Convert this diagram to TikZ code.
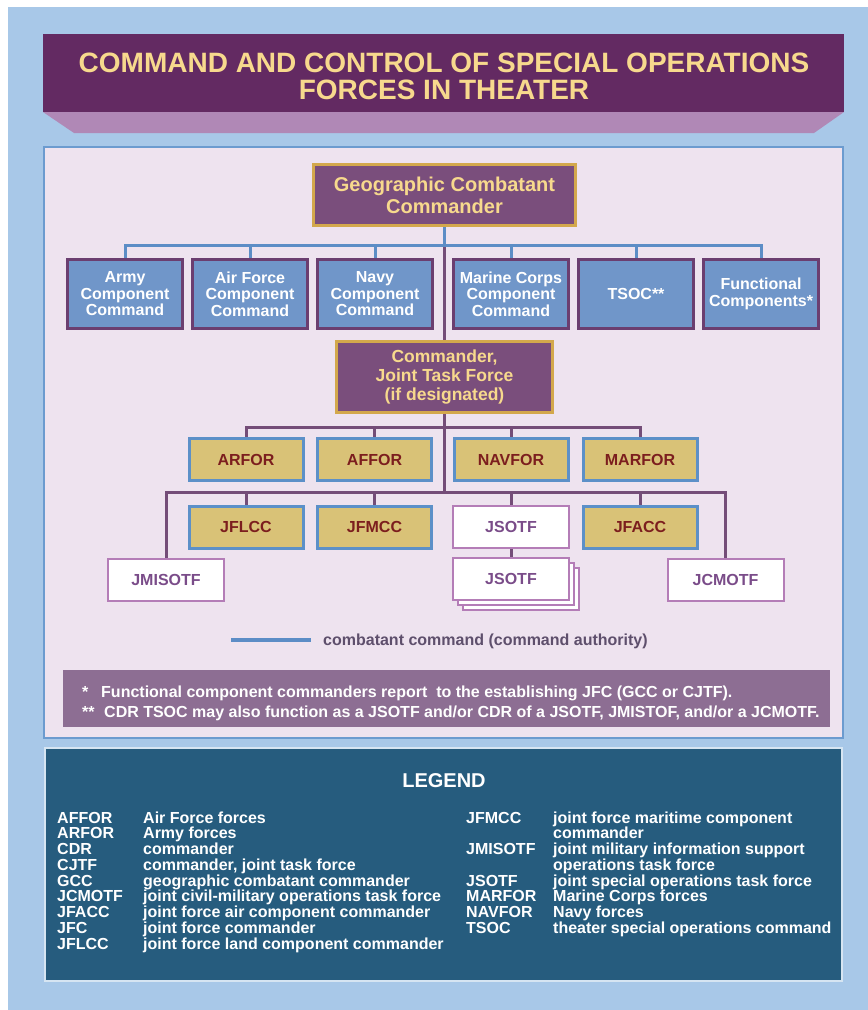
\documentclass[tikz,border=0pt]{standalone}
\usepackage{fontspec}
\setmainfont{Liberation Sans}
\definecolor{bgblue}{HTML}{A8C8E8}
\definecolor{titlepurple}{HTML}{632A62}
\definecolor{bevel}{HTML}{B088B6}
\definecolor{panel}{HTML}{EEE3EF}
\definecolor{panelborder}{HTML}{6C9BCF}
\definecolor{gccfill}{HTML}{7A4E7C}
\definecolor{gold}{HTML}{D3A84C}
\definecolor{yellowtext}{HTML}{F7D98D}
\definecolor{bluefill}{HTML}{7096C9}
\definecolor{blueborder}{HTML}{6B3E70}
\definecolor{khaki}{HTML}{D9C277}
\definecolor{khakiborder}{HTML}{5C90C8}
\definecolor{darkred}{HTML}{7C1E1E}
\definecolor{wborder}{HTML}{B47DB7}
\definecolor{wtext}{HTML}{7A4C89}
\definecolor{bline}{HTML}{5C8DC6}
\definecolor{pline}{HTML}{744D78}
\definecolor{notefill}{HTML}{8D6E93}
\definecolor{legendfill}{HTML}{265C7E}
\definecolor{legendborder}{HTML}{D6E5F2}
\definecolor{captext}{HTML}{5E4F6C}
\pgfdeclarelayer{back}
\pgfdeclarelayer{lines}
\pgfsetlayers{back,lines,main}
\tikzset{
  box/.style={rectangle, inner sep=0pt, align=center, line width=3pt},
  gccbox/.style={box, fill=gccfill, draw=gold, text=yellowtext, font=\fontsize{20}{22}\selectfont\bfseries},
  cjtfbox/.style={box, fill=gccfill, draw=gold, text=yellowtext, font=\fontsize{17.5}{19}\selectfont\bfseries},
  bluebox/.style={box, fill=bluefill, draw=blueborder, text=white, font=\fontsize{16}{16.5}\selectfont\bfseries, minimum width=115, minimum height=69},
  goldbox/.style={box, fill=khaki, draw=khakiborder, text=darkred, font=\fontsize{16}{16.5}\selectfont\bfseries, minimum width=114, minimum height=42},
  whitebox/.style={box, fill=white, draw=wborder, line width=2pt, text=wtext, font=\fontsize{16}{16.5}\selectfont\bfseries, minimum width=116, minimum height=42},
  bl/.style={draw=bline, line width=3pt},
  pl/.style={draw=pline, line width=3pt},
  titletext/.style={text=yellowtext, font=\fontsize{28}{30}\selectfont\bfseries, inner sep=0pt, anchor=base},
  notetext/.style={text=white, font=\fontsize{16}{16}\selectfont\bfseries, inner sep=0pt, anchor=base west},
  legtext/.style={text=white, font=\fontsize{16}{16}\selectfont\bfseries, inner sep=0pt, anchor=base west},
}
\begin{document}
\begin{tikzpicture}[x=1pt,y=-1pt]
\begin{pgfonlayer}{back}
\fill[white] (0,0) rectangle (868,1010);
\fill[bgblue] (8,7) rectangle (868,1010);
% title
\fill[titlepurple] (43,34) rectangle (844,112);
\fill[bevel] (43,112) -- (844,112) -- (814,133) -- (74,133) -- cycle;
% main panel
\filldraw[fill=panel, draw=panelborder, line width=2pt] (44,147) rectangle (843,738);
% notes box
\fill[notefill] (63,670) rectangle (830,727);
% legend panel
\filldraw[fill=legendfill, draw=legendborder, line width=2pt] (45,748) rectangle (842,981);
\end{pgfonlayer}

\node[titletext] (title1) at (444,72) {COMMAND AND CONTROL OF SPECIAL OPERATIONS};
\node[titletext] (title2) at (444,99) {FORCES IN THEATER};

% level 1
\node[gccbox, minimum width=262, minimum height=61] (gcc) at (444.5,195) {Geographic Combatant\\Commander};
% level 2
\node[bluebox] (army) at (125,294) {Army\\Component\\Command};
\node[bluebox] (airforce) at (250,294) {Air Force\\Component\\Command};
\node[bluebox] (navy) at (375,294) {Navy\\Component\\Command};
\node[bluebox] (marine) at (511,294) {Marine Corps\\Component\\Command};
\node[bluebox] (tsoc) at (636,294) {TSOC**};
\node[bluebox] (func) at (761,294) {Functional\\Components*};
% CJTF
\node[cjtfbox, minimum width=216, minimum height=71] (cjtf) at (444.5,377) {Commander,\\Joint Task Force\\(if designated)};
% service row
\node[goldbox] (arfor) at (246,459.5) {ARFOR};
\node[goldbox] (affor) at (374.5,459.5) {AFFOR};
\node[goldbox] (navfor) at (511,459.5) {NAVFOR};
\node[goldbox] (marfor) at (640,459.5) {MARFOR};
% functional row
\node[goldbox] (jflcc) at (246,527) {JFLCC};
\node[goldbox] (jfmcc) at (374.5,527) {JFMCC};
\node[whitebox] (jsotf) at (511,527) {JSOTF};
\node[goldbox] (jfacc) at (640,527) {JFACC};
% bottom row
\node[whitebox] (jmisotf) at (166,580) {JMISOTF};
\node[whitebox] (jcmotf) at (725.5,580) {JCMOTF};
\node[whitebox] (jsotfc) at (521,589) {};
\node[whitebox] (jsotfb) at (516,584) {};
\node[whitebox] (jsotf2) at (511,579) {JSOTF};

% connectors
\coordinate (bj) at (444.5,245);
\coordinate (pj1) at (444.5,427);
\coordinate (pj2) at (444.5,492);
\begin{pgfonlayer}{lines}
\draw[pl] (gcc.south) -- (cjtf.north);
\draw[bl] (gcc.south) -- (bj);
\draw[bl] (army.north) |- (bj) -| (func.north);
\draw[bl] (airforce.north) -- (airforce.north |- bj);
\draw[bl] (navy.north) -- (navy.north |- bj);
\draw[bl] (marine.north) -- (marine.north |- bj);
\draw[bl] (tsoc.north) -- (tsoc.north |- bj);
\draw[pl] (cjtf.south) -- (pj2);
\draw[pl] (arfor.north) |- (pj1) -| (marfor.north);
\draw[pl] (affor.north) -- (affor.north |- pj1);
\draw[pl] (navfor.north) -- (navfor.north |- pj1);
\draw[pl] (jmisotf.north) |- (pj2) -| (jcmotf.north);
\draw[pl] (jflcc.north) -- (jflcc.north |- pj2);
\draw[pl] (jfmcc.north) -- (jfmcc.north |- pj2);
\draw[pl] (jsotf.north) -- (jsotf.north |- pj2);
\draw[pl] (jfacc.north) -- (jfacc.north |- pj2);
\draw[pl] (jsotf.south) -- (jsotf2.north);
\end{pgfonlayer}

% key
\coordinate (k1) at (231,640);
\coordinate (k2) at (311,640);
\draw[draw=bline, line width=4pt] (k1) -- (k2);
\node[text=captext, font=\fontsize{16}{16}\selectfont\bfseries, inner sep=0pt, anchor=base west] (keytext) at (323,645) {combatant command (command authority)};

% notes
\node[notetext] (s1) at (82,697) {*};
\node[notetext] (n1) at (101,697) {Functional component commanders report\ \ to the establishing JFC (GCC or CJTF).};
\node[notetext] (s2) at (82,717) {**};
\node[notetext] (n2) at (104,717) {CDR TSOC may also function as a JSOTF and/or CDR of a JSOTF, JMISTOF, and/or a JCMOTF.};

% legend
\node[text=white, font=\fontsize{20}{20}\selectfont\bfseries, inner sep=0pt, anchor=base] (legend) at (444,787) {LEGEND};
\foreach \a/\d [count=\i from 0] in {AFFOR/Air Force forces, ARFOR/Army forces, CDR/commander, CJTF/{commander, joint task force}, GCC/geographic combatant commander, JCMOTF/joint civil-military operations task force, JFACC/joint force air component commander, JFC/joint force commander, JFLCC/joint force land component commander}{
  \node[legtext] (la\i) at (57,823+15.75*\i) {\a};
  \node[legtext] (ld\i) at (143,823+15.75*\i) {\d};
}
\foreach \a/\d [count=\i from 0] in {JFMCC/joint force maritime component, /commander, JMISOTF/joint military information support, /operations task force, JSOTF/joint special operations task force, MARFOR/Marine Corps forces, NAVFOR/Navy forces, TSOC/theater special operations command}{
  \node[legtext] (ra\i) at (466,823+15.75*\i) {\a};
  \node[legtext] (rd\i) at (553,823+15.75*\i) {\d};
}
\end{tikzpicture}
\end{document}
